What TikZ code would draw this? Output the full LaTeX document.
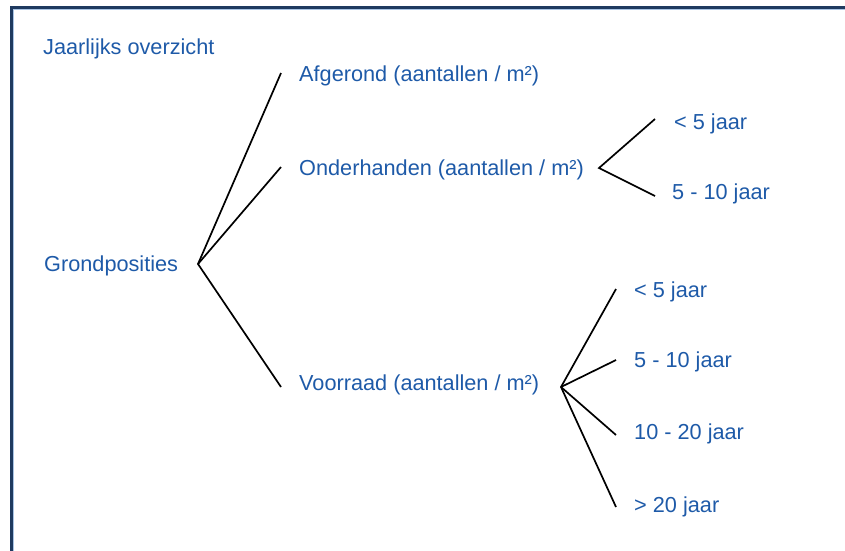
\documentclass[tikz,border=0pt]{standalone}
\usepackage{fontspec}
\setmainfont{Liberation Sans}
\definecolor{txtblue}{HTML}{1E5AA8}
\definecolor{framenavy}{HTML}{1F3A60}
\definecolor{framelight}{HTML}{A9C4E4}
\tikzset{
  lbl/.style={anchor=base west, inner sep=0pt, text=txtblue, font=\fontsize{21.7}{26}\selectfont},
  branch/.style={draw=black, line width=1.7pt},
}
\begin{document}
\begin{tikzpicture}[x=1pt,y=-1pt]
\useasboundingbox (0,0) rectangle (845,550);
% frame (open on right and bottom)
\draw[framenavy, line width=2.2pt] (11.5,551) -- (11.5,7.5) -- (846,7.5);
\draw[framelight, line width=1pt] (13.6,551) -- (13.6,9.6) -- (846,9.6);
% texts
\node[lbl] (title) at (43,54) {Jaarlijks overzicht};
\node[lbl] (grond) at (44,271.5) {Grondposities};
\node[lbl] (afg) at (299,81.5) {Afgerond (aantallen / m²)};
\node[lbl] (ond) at (299,175.5) {Onderhanden (aantallen / m²)};
\node[lbl] (voor) at (299,390.5) {Voorraad (aantallen / m²)};
\node[lbl] (o1) at (674,129.5) {< 5 jaar};
\node[lbl] (o2) at (672,199.5) {5 - 10 jaar};
\node[lbl] (v1) at (634,297.5) {< 5 jaar};
\node[lbl] (v2) at (634,367.5) {5 - 10 jaar};
\node[lbl] (v3) at (634,439.5) {10 - 20 jaar};
\node[lbl] (v4) at (634,512.5) {> 20 jaar};
% fork points and branch ends
\coordinate (gf) at (198,264);
\coordinate (ea) at (281,73);
\coordinate (eo) at (281,167);
\coordinate (ev) at (281,387);
\coordinate (of) at (599,168);
\coordinate (eo1) at (655,119);
\coordinate (eo2) at (655,196);
\coordinate (vf) at (561,387);
\coordinate (ev1) at (616,289);
\coordinate (ev2) at (616,360);
\coordinate (ev3) at (616,435);
\coordinate (ev4) at (616,507);
% branches
\draw[branch] (ea) -- (gf) -- (ev);
\draw[branch] (gf) -- (eo);
\draw[branch] (eo1) -- (of) -- (eo2);
\draw[branch] (ev1) -- (vf) -- (ev4);
\draw[branch] (vf) -- (ev2);
\draw[branch] (vf) -- (ev3);
\end{tikzpicture}
\end{document}
